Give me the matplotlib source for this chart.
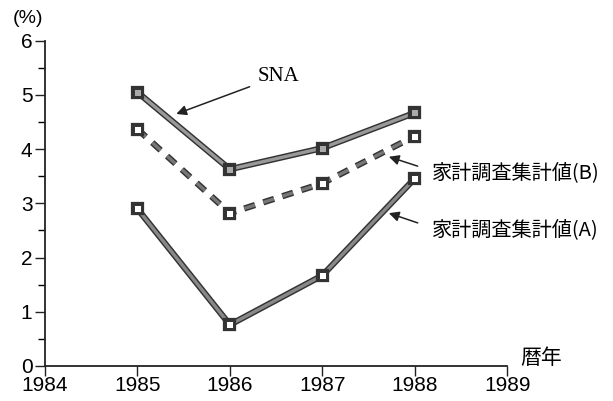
import matplotlib
matplotlib.use("Agg")
import matplotlib.pyplot as plt
import matplotlib.patheffects as pe
from matplotlib.ticker import MultipleLocator

plt.rcParams['font.family'] = ['Liberation Sans', 'Noto Sans CJK JP']

years = [1985, 1986, 1987, 1988]
sna = [5.05, 3.63, 4.02, 4.67]
household_b = [4.37, 2.82, 3.37, 4.24]
household_a = [2.90, 0.76, 1.67, 3.46]

label_sna = "SNA"
label_b = "家計調査集計値(B)"
label_a = "家計調査集計値(A)"

fig = plt.figure(figsize=(6.13, 4.01), dpi=100)
ax = fig.add_axes([0.0734, 0.0873, 0.754, 0.811])

outline = [pe.Stroke(linewidth=4.5, foreground='#333333'), pe.Normal()]

ax.plot(years, sna, color='#999999', lw=2.4, marker='s', ms=5,
        mfc='#aaaaaa', mec='#333333', mew=0.7, path_effects=outline, zorder=3)
ax.plot(years, household_b, color='#777777', lw=2.4, ls=(0, (3.4, 2.6)),
        marker='s', ms=5, mfc='white', mec='#333333', mew=0.7,
        path_effects=outline, zorder=3)
ax.plot(years, household_a, color='#888888', lw=2.4, marker='s', ms=5,
        mfc='white', mec='#333333', mew=0.7, path_effects=outline, zorder=3)

arrow = dict(arrowstyle='-|>', color='#222222', lw=1.1, mutation_scale=15,
             shrinkA=4, shrinkB=0)
side_arrow = dict(arrow, relpos=(0, 0.6), shrinkA=9)
ax.annotate(label_sna, xy=(1985.42, 4.65), xytext=(1986.3, 5.35),
            fontsize=15, family=['Liberation Serif'], ha='left', va='center',
            arrowprops=arrow)
ax.annotate(label_b, xy=(1987.72, 3.86), xytext=(1988.19, 3.56),
            fontsize=14.5, family=['Noto Sans CJK JP'], ha='left', va='center',
            arrowprops=side_arrow)
ax.annotate(label_a, xy=(1987.72, 2.82), xytext=(1988.19, 2.51),
            fontsize=14.5, family=['Noto Sans CJK JP'], ha='left', va='center',
            arrowprops=side_arrow)

ax.set_xlim(1984, 1989)
ax.set_ylim(0, 6)
ax.xaxis.set_major_locator(MultipleLocator(1))
ax.yaxis.set_major_locator(MultipleLocator(1))
ax.yaxis.set_minor_locator(MultipleLocator(0.5))
ax.tick_params(axis='both', which='major', labelsize=15, length=7, width=1,
               direction='out', color='#222222')
ax.tick_params(axis='y', which='minor', length=5, width=1)
ax.tick_params(axis='y', pad=2)
ax.tick_params(axis='x', pad=0)
ax.spines['top'].set_visible(False)
ax.spines['right'].set_visible(False)
for s in ('left', 'bottom'):
    ax.spines[s].set_linewidth(1.3)
    ax.spines[s].set_color('#222222')

fig.text(0.02, 0.955, "(%)", fontsize=14, ha='left', va='center')
fig.text(0.848, 0.107, "暦年", fontsize=15, family=['Noto Sans CJK JP'],
         ha='left', va='center')

fig.savefig("out.png", dpi=100)
